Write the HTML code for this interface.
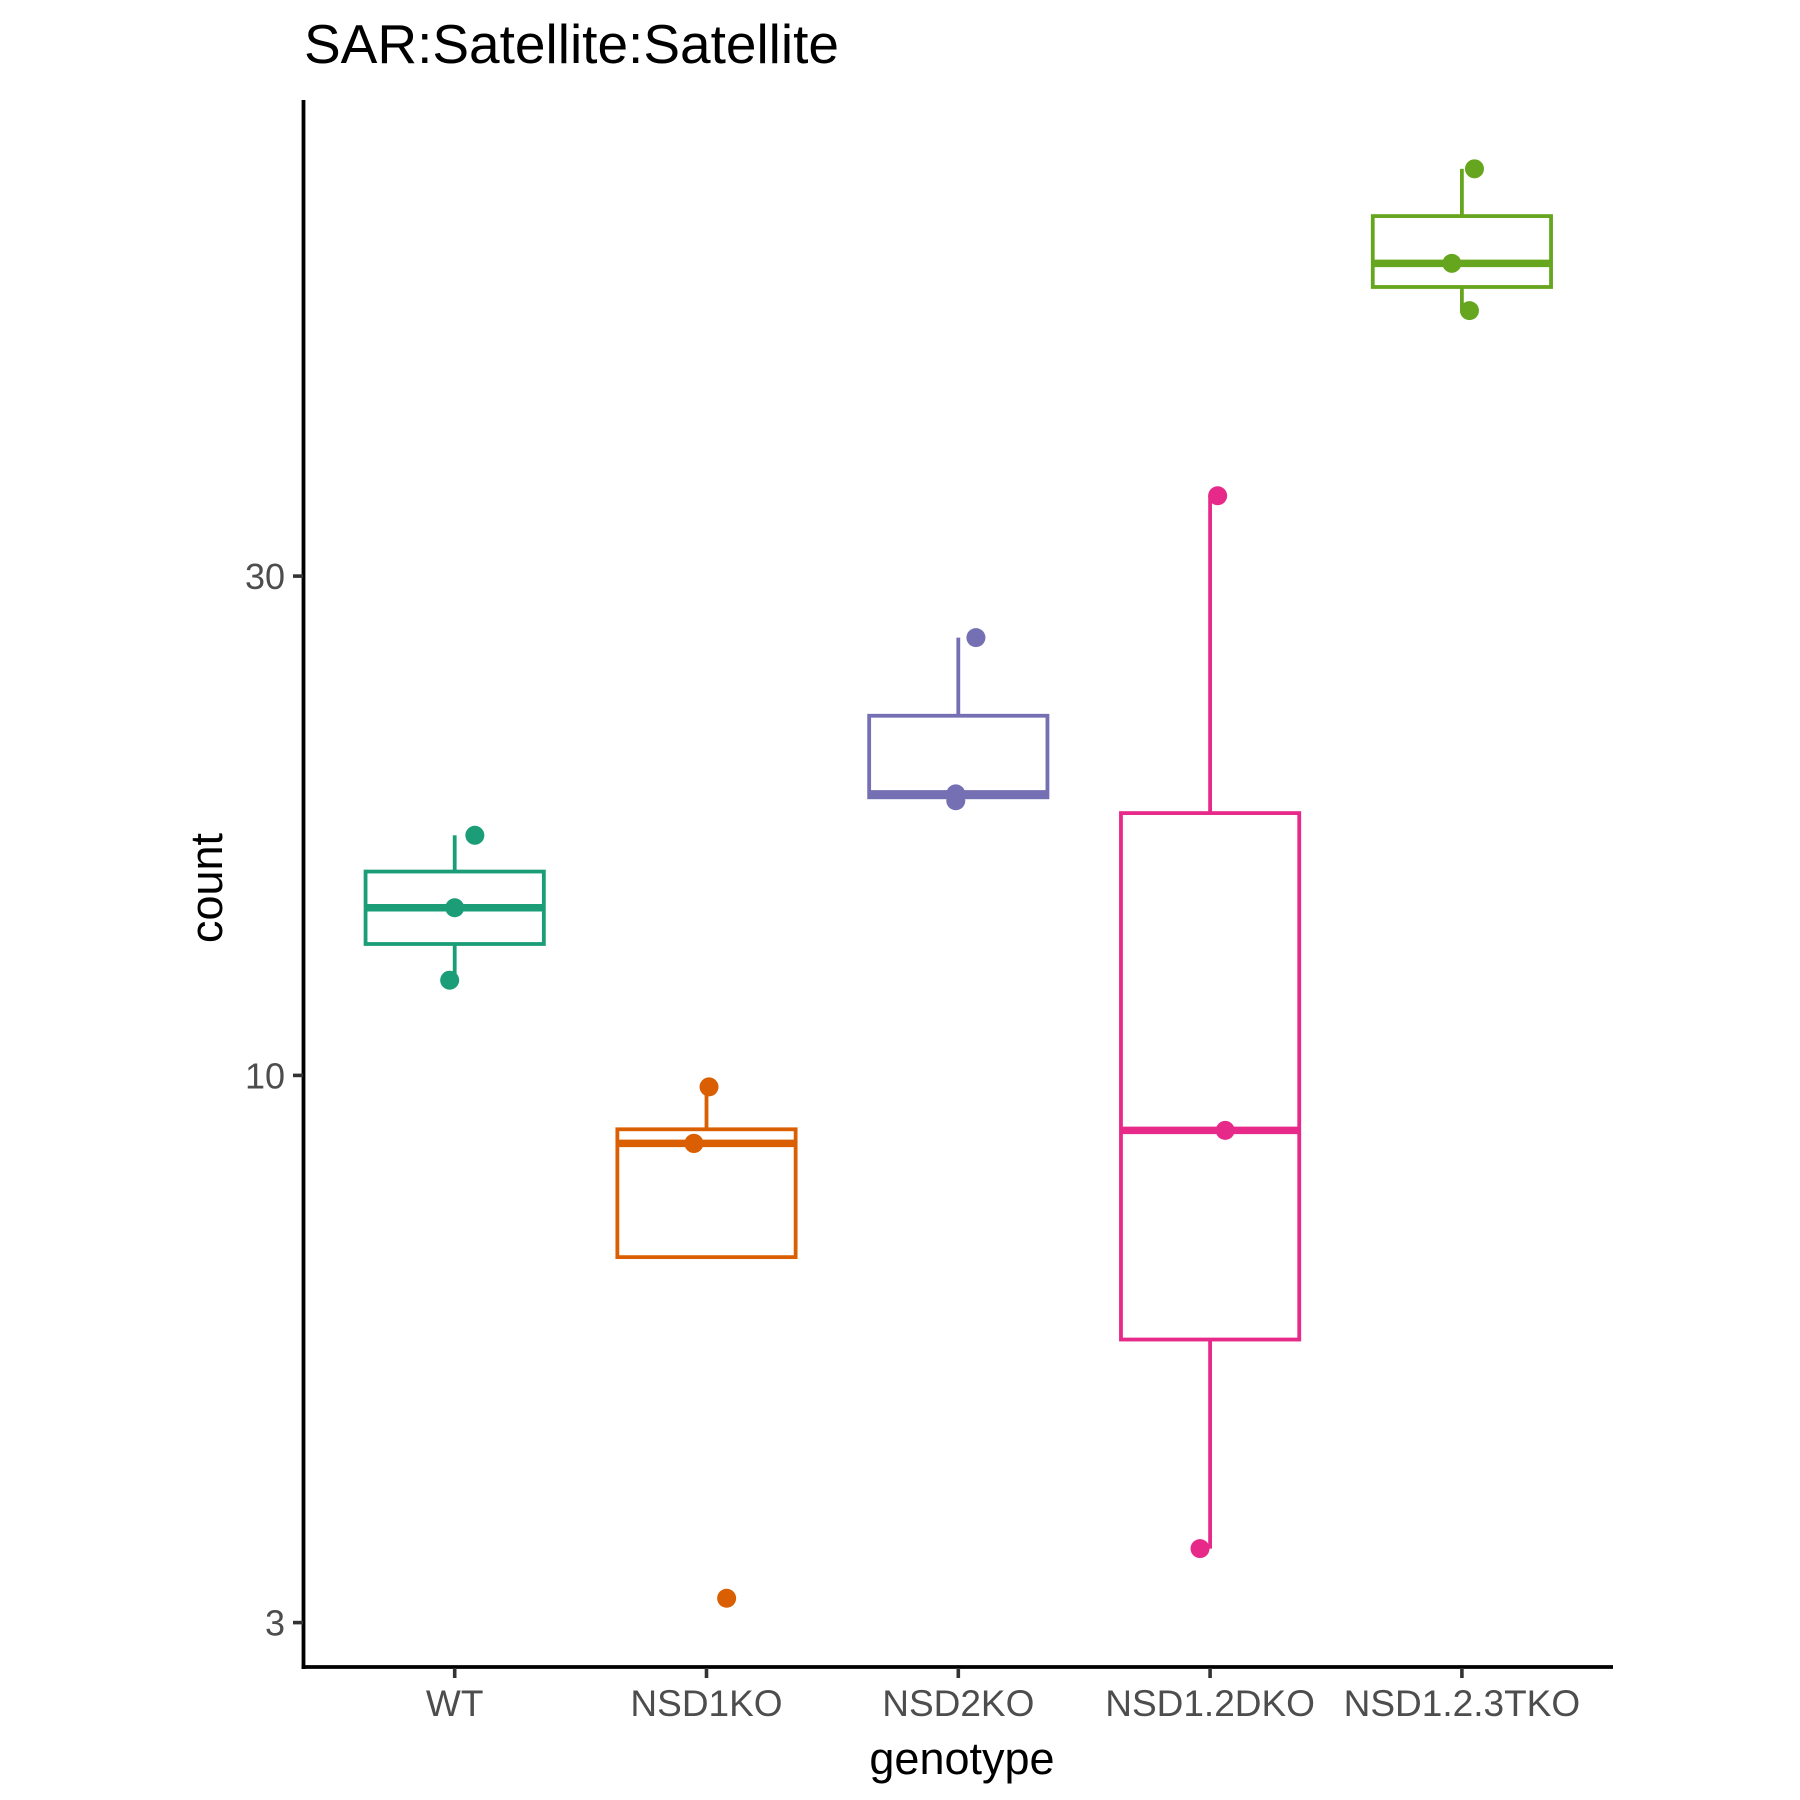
<!DOCTYPE html>
<html><head><meta charset="utf-8"><style>
html,body{margin:0;padding:0;background:#fff}
svg{display:block;font-family:"Liberation Sans",Arial,sans-serif}
</style></head><body>
<svg id="chart" width="1800" height="1800" viewBox="0 0 1800 1800" xmlns="http://www.w3.org/2000/svg">
<text x="304" y="63" font-size="55" fill="#000">SAR:Satellite:Satellite</text>
<g id="plot"></g>
<line x1="303.5" y1="100" x2="303.5" y2="1669" stroke="#000" stroke-width="3.8"/>
<line x1="301.6" y1="1667" x2="1613" y2="1667" stroke="#000" stroke-width="3.8"/>
<g id="yaxis"></g>
<g id="xaxis"></g>
<text transform="translate(222,888) rotate(-90)" text-anchor="middle" font-size="45" fill="#000">count</text>
<text x="962" y="1774" text-anchor="middle" font-size="45" fill="#000">genotype</text>
</svg>
<script>
const categories = ["WT","NSD1KO","NSD2KO","NSD1.2DKO","NSD1.2.3TKO"];
const wtValues = [12.33, 14.46, 16.96];
const nsd1Values = [3.165, 8.61, 8.61, 9.75];
const nsd2Values = [18.3, 18.58, 26.2];
const dkoValues = [3.53, 8.86, 35.8];
const tkoValues = [53.8, 59.7, 73.5];
const wtJitter = [-0.02, 0.0, 0.08];
const nsd1Jitter = [0.08, -0.05, -0.05, 0.01];
const nsd2Jitter = [-0.01, -0.01, 0.07];
const dkoJitter = [-0.04, 0.06, 0.03];
const tkoJitter = [0.03, -0.04, 0.05];
const yTickValues = [3, 10, 30];
const yTickLabels = ["3", "10", "30"];
const colors = ["#1B9E77","#D95F02","#7570B3","#E7298A","#66A61E"];

const allValues = [wtValues, nsd1Values, nsd2Values, dkoValues, tkoValues];
const allJitter = [wtJitter, nsd1Jitter, nsd2Jitter, dkoJitter, tkoJitter];
const NS = "http://www.w3.org/2000/svg";
const BAND = 251.8;
function xScale(i){ return 454.7 + i*BAND; }
function yScale(v){ return 1075.4 - (Math.log10(v) - 1)*1046.5; }
function mk(tag, attrs, parent){
  const el = document.createElementNS(NS, tag);
  for (const k in attrs) el.setAttribute(k, attrs[k]);
  parent.appendChild(el); return el;
}
function quant(sorted, p){
  const h = (sorted.length-1)*p, lo = Math.floor(h), hi = Math.ceil(h);
  return sorted[lo] + (h-lo)*(sorted[hi]-sorted[lo]);
}
const plot = document.getElementById('plot');
allValues.forEach((vals, i) => {
  const c = colors[i];
  const lv = vals.map(v => Math.log10(v)).sort((a,b)=>a-b);
  const q1 = quant(lv,0.25), med = quant(lv,0.5), q3 = quant(lv,0.75);
  const iqr = q3-q1;
  const inl = lv.filter(v => v >= q1-1.5*iqr && v <= q3+1.5*iqr);
  const wLo = Math.min(...inl), wHi = Math.max(...inl);
  const Y = l => yScale(Math.pow(10,l));
  const cx = xScale(i), hw = BAND*0.354;
  const g = mk('g', {}, plot);
  
  
  const wu = mk('line', {x1:cx, x2:cx, y1:Y(q3), y2:Y(wHi), stroke:c, 'stroke-width':3.8}, g);
  
  
  const wl = mk('line', {x1:cx, x2:cx, y1:Y(q1), y2:Y(wLo), stroke:c, 'stroke-width':3.8}, g);
  
  
  const r = mk('rect', {x:cx-hw, y:Y(q3), width:2*hw, height:Y(q1)-Y(q3), fill:'#fff', stroke:c, 'stroke-width':3.8}, g);
  
  
  const m = mk('line', {x1:cx-hw, x2:cx+hw, y1:Y(med), y2:Y(med), stroke:c, 'stroke-width':7.5}, g);
  
  
  vals.forEach((v, j) => {
    const p = mk('circle', {cx:cx + allJitter[i][j]*BAND, cy:yScale(v), r:9.5, fill:c}, g);
    
    
  });
});
const ya = document.getElementById('yaxis');
yTickValues.forEach((v, k) => {
  const y = yScale(v);
  const t = mk('line', {x1:293, x2:303, y1:y, y2:y, stroke:'#333', 'stroke-width':3.6}, ya);
  
  
  const tx = mk('text', {x:285, y:y+13, 'text-anchor':'end', 'font-size':36, fill:'#4d4d4d'}, ya);
  tx.textContent = yTickLabels[k];
  
  
});
const xa = document.getElementById('xaxis');
categories.forEach((cat, i) => {
  const x = xScale(i);
  const t = mk('line', {x1:x, x2:x, y1:1668, y2:1678, stroke:'#333', 'stroke-width':3.6}, xa);
  
  
  const tx = mk('text', {x:x, y:1716, 'text-anchor':'middle', 'font-size':37, fill:'#4d4d4d'}, xa);
  tx.textContent = cat;
  
  
});
</script>
</body></html>
